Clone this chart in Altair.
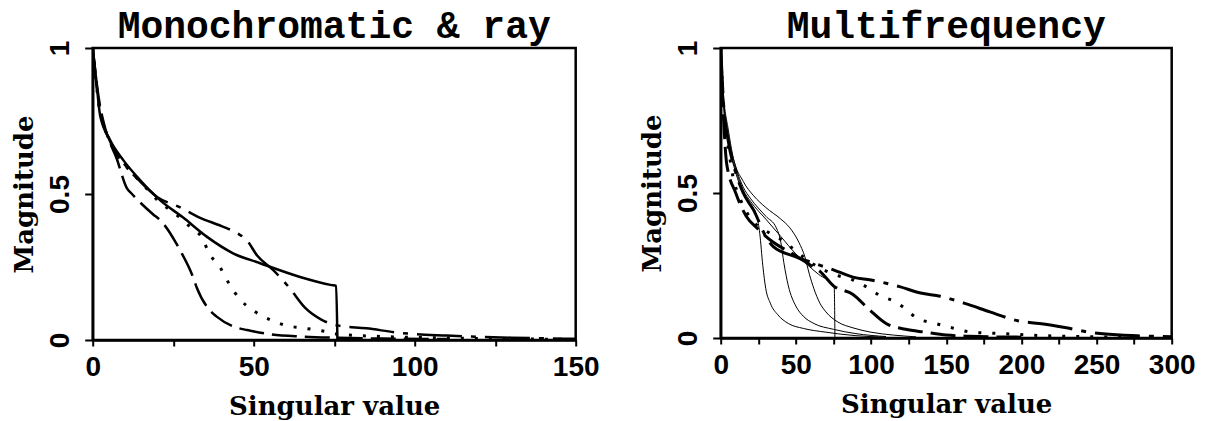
import altair as alt
import pandas as pd

# ---------------- Left panel: Monochromatic & ray ----------------
L_solid_x = [0, 1, 2.3, 5.4, 9.5, 14.7, 20.9, 28, 35.4, 43.6, 52, 64.4, 74.2, 75.6, 76]
L_solid_y = [1, 0.9, 0.77, 0.685, 0.616, 0.548, 0.479, 0.42, 0.354, 0.297, 0.263, 0.216, 0.188, 0.185, 0.0]

L_dashdot_x = [0, 2, 5, 10, 15, 20, 27, 33, 40, 45, 48, 51, 56, 61, 66, 71, 76, 85, 95, 110, 130, 150]
L_dashdot_y = [1, 0.8, 0.69, 0.6, 0.54, 0.49, 0.455, 0.42, 0.39, 0.365, 0.34, 0.29, 0.24, 0.18, 0.11, 0.07, 0.05, 0.04, 0.025, 0.015, 0.008, 0.004]

L_dot_x = [0, 2, 5, 10, 15, 20, 27, 31, 34, 36, 39.5, 42.5, 45.7, 50, 55, 60, 66, 72, 76, 90, 110, 130, 150]
L_dot_y = [1, 0.8, 0.69, 0.6, 0.54, 0.48, 0.42, 0.38, 0.35, 0.3, 0.25, 0.19, 0.14, 0.1, 0.07, 0.05, 0.04, 0.03, 0.02, 0.012, 0.007, 0.004, 0.002]

L_dash_x = [0, 2, 4, 7.5, 10.6, 12.2, 18.8, 21, 26, 27, 31, 32.3, 36.5, 38.5, 44, 48, 55, 65, 75, 90, 110]
L_dash_y = [1, 0.82, 0.72, 0.62, 0.52, 0.5, 0.43, 0.41, 0.33, 0.31, 0.22, 0.18, 0.10, 0.08, 0.045, 0.034, 0.02, 0.012, 0.008, 0.005, 0.003]

# ---------------- Right panel: Multifrequency ----------------
R_thinA_x = [0, 2, 5, 10, 15, 20, 24, 26, 28, 30, 33, 38, 45, 55, 70, 90, 110]
R_thinA_y = [1, 0.8, 0.68, 0.57, 0.5, 0.46, 0.42, 0.36, 0.25, 0.17, 0.12, 0.08, 0.05, 0.033, 0.02, 0.008, 0.003]

R_thinB_x = [0, 2, 5, 10, 15, 20, 30, 37, 40, 42, 45, 50, 55, 62, 75, 90, 110]
R_thinB_y = [1, 0.82, 0.7, 0.59, 0.52, 0.48, 0.42, 0.38, 0.33, 0.26, 0.18, 0.11, 0.075, 0.05, 0.03, 0.015, 0.005]

R_thinC_x = [0, 2, 5, 8, 15, 22, 30, 40, 46, 52, 56, 59, 62, 66, 70, 78, 88, 100, 115, 130]
R_thinC_y = [1, 0.83, 0.72, 0.63, 0.54, 0.49, 0.45, 0.41, 0.38, 0.33, 0.28, 0.22, 0.17, 0.12, 0.09, 0.055, 0.035, 0.02, 0.01, 0.004]

R_thinD_x = [0, 2, 5, 10, 15, 20, 30, 40, 50, 56, 65, 75.5, 76]
R_thinD_y = [1, 0.8, 0.68, 0.58, 0.51, 0.47, 0.41, 0.35, 0.29, 0.26, 0.22, 0.178, 0.0]

R_dashdot_x = [0, 2, 5, 10, 15, 22, 30, 35, 50, 62, 75, 88, 100, 119, 133, 146, 165, 179, 199, 212, 230, 245, 266, 280, 300]
R_dashdot_y = [1, 0.8, 0.68, 0.57, 0.5, 0.44, 0.35, 0.315, 0.28, 0.258, 0.235, 0.21, 0.2, 0.177, 0.155, 0.144, 0.115, 0.09, 0.058, 0.05, 0.035, 0.02, 0.01, 0.007, 0.004]

R_dot_x = [0, 2, 5, 8, 13, 22, 30, 40, 50, 60, 75, 88, 99, 106, 116, 123, 130, 143, 154, 167, 189, 205, 230, 250, 270]
R_dot_y = [1, 0.78, 0.66, 0.56, 0.48, 0.4, 0.37, 0.34, 0.3, 0.26, 0.22, 0.2, 0.17, 0.146, 0.125, 0.1, 0.07, 0.05, 0.035, 0.02, 0.015, 0.01, 0.006, 0.004, 0.003]

R_dash_x = [0, 2, 4, 10, 17, 24, 35, 48, 60, 66, 75, 88, 99, 110, 123, 136, 150, 165, 200]
R_dash_y = [1, 0.75, 0.6, 0.5, 0.42, 0.38, 0.33, 0.29, 0.25, 0.23, 0.18, 0.15, 0.097, 0.05, 0.03, 0.02, 0.01, 0.006, 0.003]

x_ticks_left = [0, 25, 50, 75, 100, 125, 150]
x_ticks_right = [0, 25, 50, 75, 100, 125, 150, 175, 200, 225, 250, 275, 300]
y_ticks = [0, 0.5, 1]

TICK_FONT = "Liberation Sans"
TITLE_FONT = "DejaVu Serif"


def line(xs, ys, xmax, dash=None, width=2.5):
    df = pd.DataFrame({"x": xs, "y": ys})
    kw = dict(color="black", strokeWidth=width, interpolate="monotone", clip=True)
    if dash:
        kw["strokeDash"] = dash
    return alt.Chart(df).mark_line(**kw).encode(
        x=alt.X("x:Q", scale=alt.Scale(domain=[0, xmax], nice=False, zero=False)),
        y=alt.Y("y:Q", scale=alt.Scale(domain=[0, 1], nice=False)),
    )


def axes(xmax, ticks):
    xa = alt.Axis(
        title="Singular value", values=ticks,
        labelExpr="datum.value % 50 == 0 ? datum.label : ''",
        format="d", grid=False, tickSize=6, tickWidth=2, tickColor="black",
        domainColor="black", domainWidth=2.5, labelFont=TICK_FONT, labelFontSize=28,
        labelFontWeight="bold", labelColor="black", labelPadding=8,
        titleFont=TITLE_FONT, titleFontSize=26, titleFontWeight="bold", titleColor="black",
        titlePadding=12, labelFlush=False,
    )
    ya = alt.Axis(
        title="Magnitude", values=y_ticks, format="~g", grid=False, tickSize=8, tickWidth=2,
        tickColor="black", domainColor="black", domainWidth=2.5, labelFont=TICK_FONT,
        labelFontSize=28, labelFontWeight="bold", labelColor="black", labelAngle=-90,
        labelAlign="center", labelBaseline="bottom", labelPadding=10,
        titleFont=TITLE_FONT, titleFontSize=26, titleFontWeight="bold", titleColor="black",
        titlePadding=9, labelFlush=False,
    )
    return xa, ya


def panel(layers, xmax, ticks, title, w, h):
    xa, ya = axes(xmax, ticks)
    ch = alt.layer(*layers).encode(
        x=alt.X("x:Q", axis=xa, scale=alt.Scale(domain=[0, xmax], nice=False, zero=False)),
        y=alt.Y("y:Q", axis=ya, scale=alt.Scale(domain=[0, 1], nice=False)),
    ).properties(
        width=w, height=h,
        view=alt.ViewBackground(stroke="black", strokeWidth=2.5),
        title=alt.TitleParams(title, font="Liberation Mono", fontSize=38, fontWeight="bold",
                              color="black", offset=-6),
    )
    return ch


LONG_SHORT = [45, 9, 5, 9]
DOT = [3, 11]
DASH = [25, 8]

left = panel([
    line(L_solid_x, L_solid_y, 150, None, 2.5),
    line(L_dashdot_x, L_dashdot_y, 150, LONG_SHORT, 2.5),
    line(L_dot_x, L_dot_y, 150, DOT, 3),
    line(L_dash_x, L_dash_y, 150, DASH, 2.5),
], 150, x_ticks_left, "Monochromatic & ray", 483, 292)

right = panel([
    line(R_thinA_x, R_thinA_y, 300, None, 1),
    line(R_thinB_x, R_thinB_y, 300, None, 1),
    line(R_thinC_x, R_thinC_y, 300, None, 1),
    line(R_thinD_x, R_thinD_y, 300, None, 1),
    line(R_dashdot_x, R_dashdot_y, 300, LONG_SHORT, 3),
    line(R_dot_x, R_dot_y, 300, DOT, 3),
    line(R_dash_x, R_dash_y, 300, DASH, 3),
], 300, x_ticks_right, "Multifrequency", 451, 290)

chart = alt.hconcat(left, right, spacing=145, bounds="flush").configure_view(
    stroke="black", strokeWidth=2.5
).configure(
    background="white",
    autosize=alt.AutoSizeParams(type="none"),
    padding={"left": 84.7, "top": 40, "right": 1128, "bottom": 373},
)

chart.save("out.html", embed_options={"renderer": "svg", "actions": False})
